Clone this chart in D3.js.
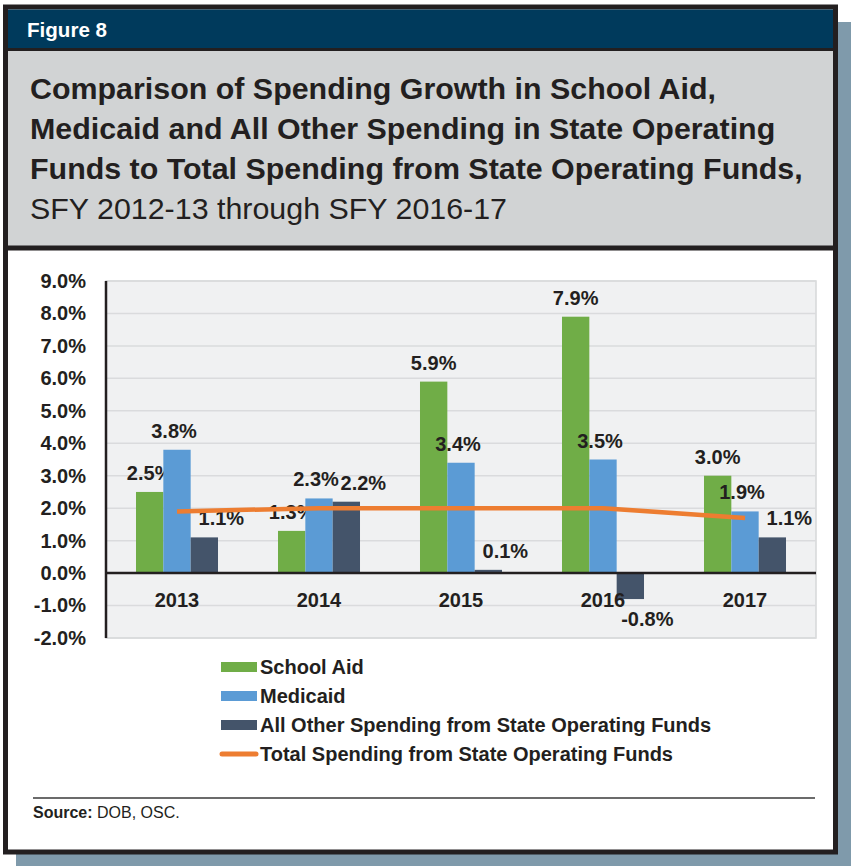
<!DOCTYPE html>
<html>
<head>
<meta charset="utf-8">
<script src="https://cdn.jsdelivr.net/npm/d3@7"></script>
<style>
  body { margin: 0; background: #fff; }
  svg { display: block; font-family: "Liberation Sans", Arial, sans-serif; }
</style>
</head>
<body>
<svg id="fig" width="851" height="866"></svg>
<script>
// chart values
var years = ["2013", "2014", "2015", "2016", "2017"];
var schoolAid = [2.5, 1.3, 5.9, 7.9, 3.0];
var medicaid = [3.8, 2.3, 3.4, 3.5, 1.9];
var allOther = [1.1, 2.2, 0.1, -0.8, 1.1];
var totalSpending = [1.9, 2.0, 2.0, 2.0, 1.7];
var yTicks = [-2, -1, 0, 1, 2, 3, 4, 5, 6, 7, 8, 9];
var seriesNames = ["School Aid", "Medicaid", "All Other Spending from State Operating Funds"];
var lineName = "Total Spending from State Operating Funds";
var titleLines = ["Comparison of Spending Growth in School Aid,",
  "Medicaid and All Other Spending in State Operating",
  "Funds to Total Spending from State Operating Funds,"];
var subTitle = "SFY 2012-13 through SFY 2016-17";

var colors = ["#70ad47", "#5b9bd5", "#44546a"];
var lineColor = "#ed7d31";
var labelShift = [0, -3, 17];   // excel nudged the labels sideways
// plain hyphen for negatives, like the original
var fmt = function(v){ return v.toFixed(1) + "%"; };

var svg = d3.select("#fig");

// frame, shadow and header
svg.append("rect").attr("x", 16).attr("y", 22).attr("width", 835).attr("height", 844)
  .style("fill", "#7f9aab");
svg.append("rect").attr("x", 5.5).attr("y", 7).attr("width", 830).attr("height", 845)
  .style("fill", "#fff").style("stroke", "#231f20").style("stroke-width", 5);
svg.append("rect").attr("x", 8).attr("y", 9.5).attr("width", 825).attr("height", 39)
  .style("fill", "#003a5c");
svg.append("rect").attr("x", 8).attr("y", 51).attr("width", 825).attr("height", 195)
  .style("fill", "#d1d3d4");
svg.append("line").attr("x1", 8).attr("x2", 833).attr("y1", 49.5).attr("y2", 49.5)
  .style("stroke", "#231f20").style("stroke-width", 3);
svg.append("line").attr("x1", 8).attr("x2", 833).attr("y1", 248).attr("y2", 248)
  .style("stroke", "#231f20").style("stroke-width", 5);

svg.append("text").attr("x", 27).attr("y", 37)
  .attr("textLength", 80).attr("lengthAdjust", "spacingAndGlyphs")
  .style("font-size", "21px").style("font-weight", "bold").style("fill", "#fff")
  .text("Figure 8");

var title = svg.append("g").style("fill", "#231f20").style("font-size", "30.4px");
titleLines.forEach(function(t, i){
  title.append("text").attr("x", 30).attr("y", 99 + i * 40)
    .style("font-weight", "bold").text(t);
});
title.append("text").attr("x", 30).attr("y", 219).text(subTitle);

// plot area
var pLeft = 106, pRight = 816, pTop = 281, pBottom = 638;
var x = d3.scaleBand().domain(years).range([pLeft, pRight]).paddingInner(0.4225).paddingOuter(0.21125);
var xs = d3.scaleBand().domain([0, 1, 2]).range([0, x.bandwidth()]);
var y = d3.scaleLinear().domain([-2, 9]).range([pBottom, pTop]);

svg.append("rect").attr("x", pLeft).attr("y", pTop).attr("width", pRight - pLeft).attr("height", pBottom - pTop)
  .style("fill", "#f0f1f2").style("stroke", "#d6d7d9").style("stroke-width", 1.5);

svg.append("g").selectAll("line").data(yTicks).join("line")
  .attr("x1", pLeft).attr("x2", pRight)
  .attr("y1", function(d){ return y(d); }).attr("y2", function(d){ return y(d); })
  .style("stroke", "#dadbdd").style("stroke-width", 1.5);

var yAxis = svg.append("g").attr("transform", "translate(" + (pLeft - 20) + ",0)")
  .call(d3.axisLeft(y).tickValues(yTicks).tickSize(0).tickPadding(0).tickFormat(fmt));
yAxis.select(".domain").remove();
yAxis.selectAll("text").style("font-size", "20px").style("font-weight", "bold")
  .style("font-family", "inherit").style("fill", "#231f20");

var series = [schoolAid, medicaid, allOther];
series.forEach(function(vals, s){
  var g = svg.append("g");
  g.selectAll("rect").data(vals).join("rect")
    .attr("x", function(d, i){ return x(years[i]) + xs(s); })
    .attr("width", xs.bandwidth())
    .attr("y", function(d){ return y(Math.max(0, d)); })
    .attr("height", function(d){ return Math.abs(y(d) - y(0)); })
    .style("fill", colors[s]);
  g.selectAll("text").data(vals).join("text")
    .attr("x", function(d, i){ return x(years[i]) + xs(s) + xs.bandwidth() / 2 + labelShift[s]; })
    .attr("y", function(d){ return d >= 0 ? y(d) - 12 : y(d) + 27; })
    .attr("text-anchor", "middle")
    .style("font-size", "20px").style("font-weight", "bold").style("fill", "#231f20")
    .text(fmt);
});

// zero line and left axis
svg.append("line").attr("x1", pLeft).attr("x2", pRight).attr("y1", y(0)).attr("y2", y(0))
  .style("stroke", "#231f20").style("stroke-width", 2.5);
svg.append("line").attr("x1", pLeft).attr("x2", pLeft).attr("y1", pTop).attr("y2", pBottom)
  .style("stroke", "#231f20").style("stroke-width", 2.5);

var xAxis = svg.append("g").attr("transform", "translate(0," + y(0) + ")")
  .call(d3.axisBottom(x).tickSize(0).tickPadding(20));
xAxis.select(".domain").remove();
xAxis.selectAll("text").style("font-size", "20px").style("font-weight", "bold")
  .style("font-family", "inherit").style("fill", "#231f20");

var line = d3.line()
  .x(function(d, i){ return x(years[i]) + x.bandwidth() / 2; })
  .y(function(d){ return y(d); });
svg.append("path").datum(totalSpending).attr("d", line)
  .style("fill", "none").style("stroke", lineColor).style("stroke-width", 4.5);

// legend
var legend = svg.append("g").attr("transform", "translate(221,667)");
seriesNames.forEach(function(n, i){
  legend.append("rect").attr("x", 0).attr("y", i * 29 - 5).attr("width", 36).attr("height", 10)
    .style("fill", colors[i]);
  legend.append("text").attr("x", 39).attr("y", i * 29).attr("dy", "0.35em")
    .style("font-size", "20px").style("font-weight", "bold").style("fill", "#231f20").text(n);
});
legend.append("line").attr("x1", 1).attr("x2", 35).attr("y1", 87).attr("y2", 87)
  .style("stroke", lineColor).style("stroke-width", 5).style("stroke-linecap", "round");
legend.append("text").attr("x", 39).attr("y", 87).attr("dy", "0.35em")
  .style("font-size", "20px").style("font-weight", "bold").style("fill", "#231f20").text(lineName);

// source note
svg.append("line").attr("x1", 33).attr("x2", 815).attr("y1", 798).attr("y2", 798)
  .style("stroke", "#3a3a3a").style("stroke-width", 1.5);
var src = svg.append("text").attr("x", 33).attr("y", 818).style("font-size", "16px").style("fill", "#231f20");
src.append("tspan").style("font-weight", "bold").text("Source:");
src.append("tspan").text(" DOB, OSC.");
</script>
</body>
</html>
